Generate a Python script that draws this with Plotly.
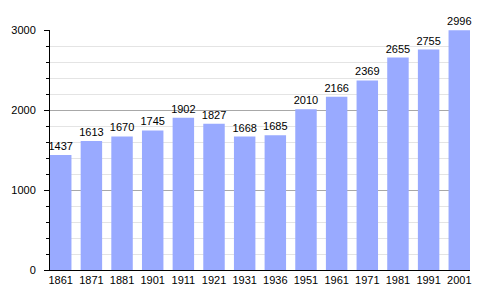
import plotly.graph_objects as go

years = ["1861", "1871", "1881", "1901", "1911", "1921", "1931", "1936",
         "1951", "1961", "1971", "1981", "1991", "2001"]
population = [1437, 1613, 1670, 1745, 1902, 1827, 1668, 1685,
              2010, 2166, 2369, 2655, 2755, 2996]

fig = go.Figure(go.Bar(
    x=years, y=population,
    marker=dict(color="#99aaff", line=dict(width=0)),
    text=[str(v) for v in population],
    textposition="outside",
    constraintext="none",
    textfont=dict(family="Liberation Sans, Arial", size=11, color="black"),
    cliponaxis=False,
))

fig.update_layout(
    width=500, height=300,
    margin=dict(l=50, r=30, t=30, b=30),
    paper_bgcolor="white", plot_bgcolor="white",
    bargap=0.3,
    showlegend=False,
    font=dict(family="Liberation Sans, Arial", size=11, color="black"),
    xaxis=dict(
        type="category",
        range=[-0.35, 13.35],
        showline=True, linecolor="black", linewidth=1,
        ticks="", showgrid=False,
        tickfont=dict(size=11, color="black"),
    ),
    yaxis=dict(
        range=[0, 3000],
        tickvals=[0, 1000, 2000, 3000],
        showline=True, linecolor="black", linewidth=1,
        ticks="outside", ticklen=5, tickcolor="black",
        ticklabelstandoff=6,
        showgrid=True, gridcolor="#a8a8a8", gridwidth=1,
        zeroline=False,
        minor=dict(dtick=200, showgrid=True, gridcolor="#e4e4e4",
                   ticks="outside", ticklen=3, tickcolor="black"),
        tickfont=dict(size=11, color="black"),
    ),
)

fig.write_html("out.html")
